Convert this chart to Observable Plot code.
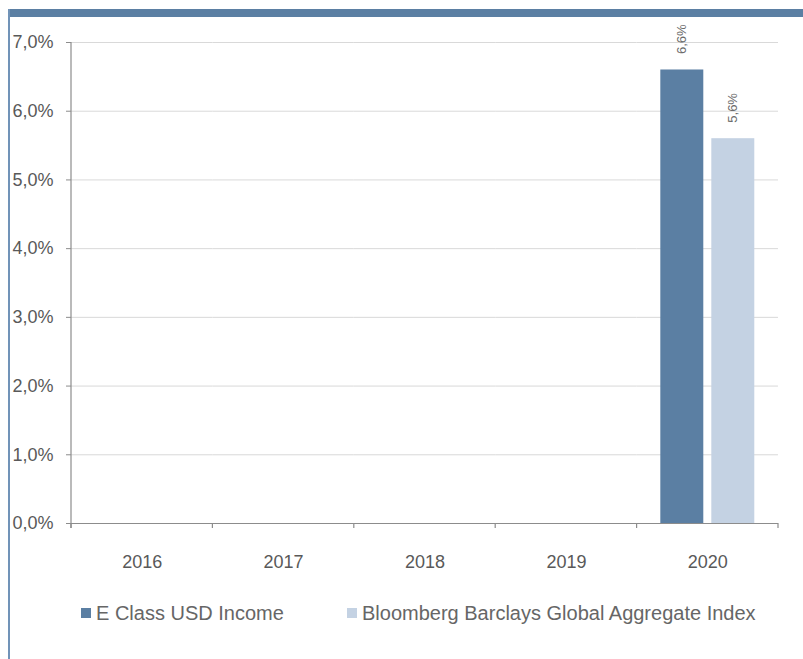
<!DOCTYPE html>
<html>
<head>
<meta charset="utf-8">
<script src="https://cdn.jsdelivr.net/npm/d3@7"></script>
<script src="https://cdn.jsdelivr.net/npm/@observablehq/plot@0.6"></script>
<style>
  html, body { margin: 0; padding: 0; background: #fff; }
  #page { position: relative; width: 803px; height: 659px; overflow: hidden; font-family: "Liberation Sans", Arial, sans-serif; }
  #topband { position: absolute; left: 8px; top: 9px; width: 795px; height: 8px; background: #5b7fa3; }
  #leftline { position: absolute; left: 8px; top: 9px; width: 2px; height: 650px; background: #7193b8; }
  #chart { position: absolute; left: 0; top: 0; }
  .lg-sq { position: absolute; top: 608px; width: 10px; height: 10px; }
  .lg-tx { position: absolute; top: 603px; font-size: 20px; line-height: 20px; color: #666; white-space: nowrap; }
</style>
</head>
<body>
<div id="page">
  <div id="chart"></div>
  <div id="topband"></div>
  <div id="leftline"></div>
  <div id="legend"></div>
</div>
<script>
// ---- data ----
const years = ["2016", "2017", "2018", "2019", "2020"];
const series = ["E Class USD Income", "Bloomberg Barclays Global Aggregate Index"];
const fundValues = [null, null, null, null, 6.6];
const indexValues = [null, null, null, null, 5.6];
const yTicks = [0, 1, 2, 3, 4, 5, 6, 7];
const colors = ["#5b7fa3", "#c4d2e3"];

const rows = [];
years.forEach((yr, i) => {
  rows.push({year: yr, series: series[0], value: fundValues[i]});
  rows.push({year: yr, series: series[1], value: indexValues[i]});
});
const pct = v => (v == null ? "" : v.toFixed(1).replace(".", ",") + "%");

const plot = Plot.plot({
  width: 803,
  height: 590,
  marginLeft: 71,
  marginRight: 25,
  marginTop: 42,
  marginBottom: 67,
  style: {fontFamily: '"Liberation Sans", Arial, sans-serif', background: "transparent"},
  fx: {domain: years, padding: 0, label: null, round: false},
  x: {domain: series, paddingInner: 0.157, paddingOuter: 0.465, axis: null, round: false},
  y: {domain: [0, 7], axis: null},
  color: {domain: series, range: colors},
  marks: [
    Plot.gridY(yTicks, {stroke: "#d9d9d9", strokeOpacity: 1, strokeWidth: 1}),
    Plot.barY(rows, {fx: "year", x: "series", y: "value", fill: "series"}),
    Plot.ruleY([0], {stroke: "#8c8c8c", strokeWidth: 1.2}),
    Plot.text(rows, {fx: "year", x: "series", y: "value", text: d => pct(d.value),
      rotate: -90, textAnchor: "start", lineAnchor: "middle", dy: -16, fontSize: 13, fill: "#6b6b6b"}),
    Plot.axisY({ticks: yTicks, tickFormat: pct, tickSize: 5, tickPadding: 13, fontSize: 18,
      color: "#595959", stroke: "#8c8c8c", label: null, facetAnchor: "left"}),
    Plot.axisFx({anchor: "bottom", tickSize: 0, tickPadding: 32, fontSize: 18, color: "#595959", label: null})
  ]
});

document.getElementById("chart").appendChild(plot);

// axis line and category-boundary ticks from the library's scales
const fx = plot.scale("fx");
const ys = plot.scale("y");
const svg = d3.select(plot);
const y0 = ys.apply(0), y7 = ys.apply(7);
const bounds = years.map(d => fx.apply(d));
bounds.push(fx.apply(years[years.length - 1]) + fx.step);
const g = svg.append("g").attr("stroke", "#8c8c8c").attr("stroke-width", 1.2);
g.append("line").attr("x1", bounds[0]).attr("x2", bounds[0]).attr("y1", y7).attr("y2", y0 + 5);
bounds.forEach(b => g.append("line").attr("x1", b).attr("x2", b).attr("y1", y0).attr("y2", y0 + 5));

// legend
const legend = document.getElementById("legend");
const lgPos = [[81, 96], [347, 362]];
series.forEach((s, i) => {
  const sq = document.createElement("div");
  sq.className = "lg-sq";
  sq.style.left = lgPos[i][0] + "px";
  sq.style.background = colors[i];
  legend.appendChild(sq);
  const tx = document.createElement("div");
  tx.className = "lg-tx";
  tx.style.left = lgPos[i][1] + "px";
  tx.textContent = s;
  legend.appendChild(tx);
});
</script>
</body>
</html>
